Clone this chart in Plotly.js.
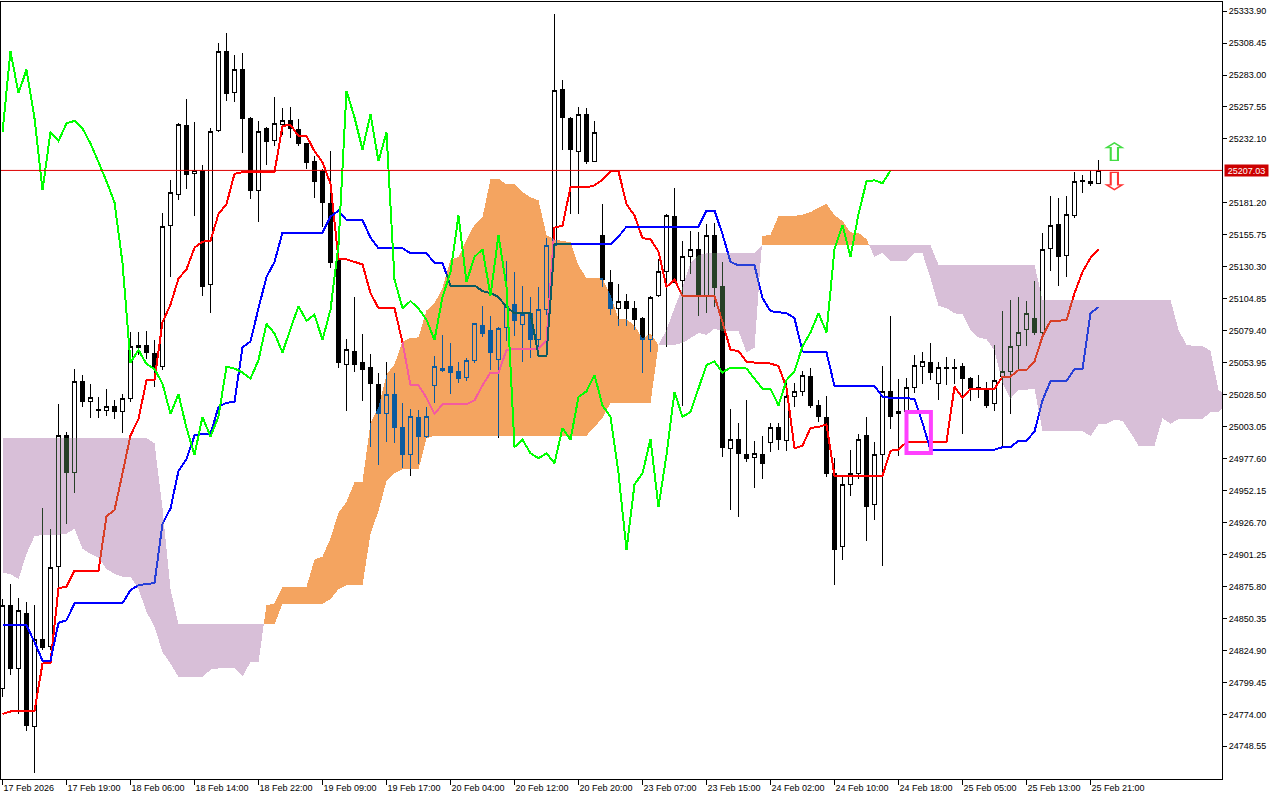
<!DOCTYPE html>
<html><head><meta charset="utf-8">
<script src="https://cdn.plot.ly/plotly-3.0.1.min.js"></script>
<style>html,body{margin:0;padding:0;background:#fff;overflow:hidden}#chart{width:1280px;height:800px}</style>
</head><body><div id="chart"></div>
<script>
// ---- tick labels ----
const tickIdx = [0,8,16,24,32,40,48,56,64,72,80,88,96,104,112,120,128,136];
const timeLabels = ['17 Feb 2026','17 Feb 19:00','18 Feb 06:00','18 Feb 14:00','18 Feb 22:00','19 Feb 09:00','19 Feb 17:00','20 Feb 04:00','20 Feb 12:00','20 Feb 20:00','23 Feb 07:00','23 Feb 15:00','24 Feb 02:00','24 Feb 10:00','24 Feb 18:00','25 Feb 05:00','25 Feb 13:00','25 Feb 21:00'];
const priceTicks = [25333.90,25308.45,25283.00,25257.55,25232.10,25181.20,25155.75,25130.30,25104.85,25079.40,25053.95,25028.50,25003.05,24977.60,24952.15,24926.70,24901.25,24875.80,24850.35,24824.90,24799.45,24774.00,24748.55];

// ---- candles (H1 bars) ----
const opens = [24794.4,24860.5,24810.4,24854.5,24764.7,24833.6,24828.4,24891.4,24996.0,24966.7,
25039.3,25023.2,25016.0,25016.0,25019.2,25014.8,25025.2,25066.1,25067.7,25061.3,
25050.9,25163.5,25187.6,25242.9,25204.8,25207.2,25116.2,25238.5,25301.8,25269.3,
25287.3,25248.5,25191.2,25240.5,25231.2,25243.7,25246.5,25239.7,25228.4,25214.4,
25207.2,25181.1,25135.0,25052.9,25062.9,25054.1,25050.1,25036.9,25013.2,25028.8,
25002.0,24980.7,25010.0,24995.2,25036.1,25048.1,25050.9,25046.9,25042.1,25056.1,
25083.3,25079.3,25056.9,25082.1,25100.2,25084.1,25093.4,25072.1,25096.2,25147.5,
25271.3,25248.5,25222.4,25251.7,25214.4,25155.1,25118.2,25097.4,25103.0,25097.0,
25089.4,25072.1,25107.4,25126.2,25170.3,25119.4,25138.2,25144.3,25107.4,25155.5,
25115.0,24985.9,24993.2,24981.1,24978.7,24981.1,24990.8,25002.0,24992.0,25027.2,
25031.2,25043.3,25020.0,25010.0,24965.9,24907.8,24957.1,24965.9,24996.0,24940.7,
24980.7,25030.8,25013.2,25014.8,25034.0,25051.3,25054.1,25037.3,25049.3,25050.1,
25051.3,25041.3,25034.0,25032.8,25021.2,25043.3,25047.3,25067.3,25080.1,25088.9,
25078.1,25145.1,25164.3,25139.0,25171.1,25198.4,25198.4,25196.8];
const highs = [24866.0,24877.7,24866.5,24863.7,24861.0,24937.9,24921.8,25020.8,24998.8,25049.3,
25044.1,25037.3,25026.4,25033.2,25024.0,25029.2,25078.1,25078.1,25079.3,25071.7,
25173.5,25199.6,25244.5,25263.7,25245.7,25211.2,25240.5,25308.6,25316.6,25298.6,
25300.6,25249.3,25246.5,25241.3,25265.3,25256.5,25257.3,25247.7,25229.2,25218.4,
25208.0,25222.4,25135.8,25072.9,25106.2,25076.9,25060.9,25046.1,25054.9,25046.1,
25022.0,25016.8,25016.0,25018.8,25059.3,25076.1,25069.3,25054.9,25058.1,25085.7,
25099.0,25091.4,25082.1,25135.0,25126.2,25115.0,25106.2,25114.2,25153.1,25331.4,
25279.3,25249.3,25257.7,25256.5,25246.5,25180.3,25127.4,25117.0,25109.0,25103.0,
25090.2,25107.0,25136.2,25172.3,25193.2,25151.1,25159.1,25158.3,25164.3,25165.1,
25134.2,25016.8,25006.0,25024.0,24992.0,24996.0,25006.0,25006.0,25038.1,25038.1,
25047.3,25050.1,25024.0,25027.2,24977.9,24962.7,24984.7,24997.2,25010.8,24990.8,
25051.3,25090.9,25041.3,25042.1,25060.1,25062.1,25069.3,25054.9,25058.9,25057.3,
25054.1,25042.8,25044.1,25038.9,25068.1,25095.4,25104.0,25106.2,25103.0,25119.4,
25157.1,25186.4,25185.2,25186.4,25205.6,25203.6,25207.2,25215.2];
const lows = [24788.0,24805.6,24774.3,24760.7,24727.4,24825.6,24825.6,24875.7,24925.8,24949.9,
25018.8,25010.0,25010.0,25011.6,25009.2,24997.9,25022.8,25060.1,25057.3,25034.8,
25048.1,25122.2,25183.5,25192.4,25171.1,25107.0,25093.4,25237.7,25262.5,25261.3,
25221.2,25184.3,25166.3,25211.6,25226.4,25235.3,25233.2,25226.4,25208.4,25185.1,
25162.3,25129.4,25050.1,25015.2,25046.9,25023.2,24987.2,24972.7,24990.8,24989.9,
24969.9,24963.9,24973.1,24994.0,25022.0,25046.9,25028.8,25038.1,25039.3,25054.1,
25074.1,25048.1,24994.0,25071.3,25074.9,25054.9,25058.1,25064.1,25092.2,25146.3,
25223.6,25172.3,25172.3,25212.4,25213.6,25114.2,25092.2,25083.3,25082.9,25080.1,
25046.1,25062.1,25106.2,25066.1,25117.4,25019.2,25124.2,25091.4,25093.4,25098.2,
24979.1,24936.6,24931.0,24974.7,24953.9,24961.1,24982.7,24984.7,24983.9,25018.8,
25027.2,25018.0,25006.8,24962.7,24876.9,24897.0,24947.9,24961.1,24911.8,24928.6,
24891.8,25000.8,24979.9,25012.0,25030.0,25037.3,25040.1,25024.0,25036.1,25037.3,
24997.2,25023.5,25026.0,25018.0,25015.2,24987.9,25013.2,25048.1,25066.9,25076.1,
25074.9,25127.0,25115.0,25122.2,25169.5,25189.2,25194.4,25196.8];
const closes = [24860.5,24810.4,24856.5,24765.5,24833.6,24827.6,24890.6,24996.0,24966.7,25038.9,
25023.2,25026.4,25016.8,25019.2,25014.8,25025.2,25066.9,25067.7,25062.1,25050.9,
25162.3,25189.2,25243.6,25204.0,25206.8,25115.0,25237.7,25301.8,25268.5,25287.3,
25248.5,25191.2,25237.7,25230.4,25244.5,25246.5,25240.5,25228.4,25213.6,25198.4,
25181.5,25133.4,25054.1,25064.1,25052.9,25048.9,25037.3,25013.2,25028.8,25002.0,
24980.7,25010.8,24995.2,25011.2,25050.9,25049.3,25046.1,25041.3,25056.1,25084.9,
25077.3,25062.1,25080.9,25099.0,25087.3,25092.2,25072.1,25096.2,25147.5,25270.5,
25249.3,25223.6,25251.7,25214.4,25237.3,25120.2,25097.4,25103.0,25097.0,25088.2,
25072.1,25106.2,25126.2,25171.1,25118.2,25138.2,25144.3,25107.4,25155.5,25114.2,
24986.8,24992.7,24981.9,24977.9,24981.9,24973.9,25002.0,24992.7,25026.8,25031.2,
25044.1,25020.0,25010.8,24965.9,24905.0,24957.1,24965.9,24993.2,24939.1,24980.7,
25030.8,25010.8,25014.8,25034.0,25052.1,25054.9,25046.1,25050.1,25050.1,25049.3,
25041.3,25033.2,25033.2,25020.0,25040.1,25047.3,25066.9,25078.1,25093.4,25078.1,
25144.3,25163.5,25138.2,25172.3,25198.4,25199.2,25196.8,25207.0];

// ---- Ichimoku lines ----
const tenkan = [24774.3,24776.3,24776.7,24776.7,24776.7,24814.4,24815.2,24874.5,24875.7,24888.5,
24888.5,24888.5,24888.5,24931.8,24936.6,24965.9,24996.0,25009.2,25040.0,25040.0,
25086.2,25100.2,25121.0,25128.2,25145.5,25150.3,25151.1,25172.3,25180.3,25204.4,
25205.6,25205.6,25205.6,25205.6,25205.6,25242.5,25243.3,25234.4,25234.4,25222.4,
25213.6,25196.4,25136.2,25136.2,25134.2,25132.2,25109.4,25097.4,25097.4,25097.4,
25070.1,25036.0,25036.0,25026.0,25013.2,25020.8,25020.8,25020.8,25020.8,25024.0,
25036.0,25046.1,25046.1,25064.1,25064.9,25064.9,25064.9,25064.9,25072.1,25161.5,
25163.1,25193.6,25193.6,25193.6,25195.2,25199.6,25206.4,25206.4,25180.3,25171.1,
25153.1,25152.3,25142.3,25114.2,25120.2,25107.0,25107.0,25107.0,25107.0,25107.0,
25086.2,25064.1,25063.3,25054.9,25054.1,25054.1,25053.3,25051.3,25034.0,24985.9,
24987.9,25002.0,25002.8,25004.8,24963.9,24963.9,24963.9,24963.9,24963.9,24963.9,
24963.9,24983.9,24984.7,24990.8,24990.8,24990.8,24990.8,24990.8,24990.8,25034.8,
25026.0,25033.2,25033.2,25033.2,25033.2,25042.9,25042.9,25048.1,25048.1,25054.9,
25074.9,25087.3,25087.7,25087.7,25109.4,25126.2,25137.5,25144.3];
const kijun = [24844.9,24844.9,24844.9,24844.9,24831.6,24816.8,24816.8,24846.9,24848.9,24862.5,
24862.5,24862.5,24862.5,24862.5,24862.5,24862.5,24872.9,24876.9,24877.7,24878.5,
24925.8,24937.9,24967.9,24977.1,24996.0,24997.2,24997.2,25018.8,25022.0,25022.8,
25066.1,25070.9,25097.4,25122.2,25134.2,25157.5,25157.5,25157.5,25157.5,25157.5,
25157.5,25170.3,25175.1,25167.5,25167.5,25167.5,25153.5,25145.1,25145.1,25145.1,
25145.1,25141.1,25141.1,25141.1,25133.4,25133.4,25115.4,25115.4,25115.4,25115.4,
25111.0,25109.4,25106.2,25098.2,25093.4,25093.4,25093.4,25059.7,25059.7,25148.3,
25148.3,25148.3,25148.3,25148.3,25148.3,25148.3,25148.3,25154.3,25162.3,25162.3,
25162.3,25162.3,25162.3,25162.3,25162.3,25162.3,25162.3,25162.3,25175.1,25175.1,
25156.3,25134.2,25131.4,25131.4,25131.4,25105.4,25095.0,25094.2,25093.4,25089.4,
25062.9,25062.1,25062.1,25062.1,25035.3,25035.3,25035.3,25035.3,25035.3,25035.3,
25026.8,25026.0,25026.0,25026.0,25024.8,25006.0,24984.7,24984.7,24984.7,24984.7,
24984.7,24984.7,24984.7,24984.7,24984.7,24986.7,24986.7,24991.9,24991.9,24999.2,
25024.0,25039.3,25039.3,25039.3,25048.9,25048.9,25093.4,25098.2];
// Senkou span A / B (already shifted 26 bars forward)
const spanA = [24886.6,24885.7,24881.7,24901.8,24915.8,24917.0,24917.0,24917.0,24917.8,24921.8,
24905.8,24901.8,24898.6,24889.8,24885.7,24883.7,24883.7,24873.7,24855.7,24843.7,
24823.6,24814.4,24803.6,24803.6,24803.6,24803.6,24809.6,24810.6,24810.8,24810.8,
24804.2,24815.6,24816.0,24860.7,24862.3,24875.5,24875.5,24875.5,24875.5,24897.2,
24899.6,24914.2,24934.5,24943.1,24958.9,24959.3,25006.0,25019.0,25044.5,25052.7,
25070.7,25073.7,25074.1,25095.6,25101.2,25113.6,25135.8,25138.2,25151.5,25163.9,
25169.9,25200.0,25200.4,25196.0,25196.0,25190.0,25185.6,25183.3,25155.7,25151.9,
25150.9,25149.9,25131.4,25121.2,25121.2,25121.2,25107.6,25088.5,25088.5,25083.5,
25073.3,25077.1,25068.1,25068.1,25068.1,25069.7,25073.5,25077.7,25076.1,25081.1,
25079.1,25079.1,25079.1,25062.3,25065.9,25154.9,25155.7,25170.9,25170.9,25170.9,
25171.7,25173.9,25177.3,25180.3,25171.3,25166.7,25157.7,25157.3,25152.3,25138.2,
25141.3,25134.6,25134.6,25134.6,25141.1,25141.1,25121.2,25099.2,25097.4,25093.2,
25092.8,25079.7,25074.1,25072.7,25063.7,25037.7,25025.4,25032.0,25032.4,25033.4,
24999.6,24999.6,24999.6,24999.6,24999.6,24999.6,24995.5,25005.0,25005.4,25008.4,
25007.8,24998.4,24987.8,24987.8,24987.8,25009.8,25005.4,25009.0,25009.0,25009.0,
25009.0,25014.8,25014.8,25020.0];
const spanB = [24993.9,24993.9,24993.9,24993.9,24993.9,24993.9,24993.9,24993.9,24993.9,24993.9,
24993.9,24993.9,24993.9,24993.9,24993.9,24993.9,24993.9,24993.9,24993.9,24989.9,
24937.9,24873.7,24845.7,24845.7,24845.7,24845.7,24845.7,24845.7,24845.7,24845.7,
24845.7,24845.7,24845.7,24845.7,24845.7,24862.1,24862.1,24862.1,24862.1,24862.1,
24862.1,24865.7,24873.7,24876.9,24876.9,24876.9,24917.8,24935.9,24959.9,24965.9,
24969.1,24969.1,24969.1,24993.9,24995.9,24995.9,24995.9,24995.9,24995.9,24995.9,
24995.9,24995.9,24995.9,24995.9,24995.9,24995.9,24995.9,24995.9,24995.9,24995.9,
24995.9,24995.9,24995.9,24995.9,25002.8,25010.0,25022.0,25022.0,25022.0,25022.0,
25022.0,25022.0,25068.0,25080.0,25097.5,25114.2,25133.3,25139.7,25141.0,25141.0,
25141.0,25141.0,25141.0,25141.0,25141.0,25147.4,25147.4,25147.4,25147.4,25147.4,
25147.4,25147.4,25147.4,25147.4,25147.4,25147.4,25147.4,25147.4,25147.4,25147.4,
25147.4,25147.4,25147.4,25147.4,25147.4,25147.4,25147.4,25131.8,25131.8,25131.8,
25131.8,25131.8,25131.8,25131.8,25131.8,25131.8,25131.8,25131.8,25131.8,25131.8,
25103.9,25103.9,25103.9,25103.9,25103.9,25103.9,25103.9,25103.9,25103.9,25103.9,
25103.9,25103.9,25103.9,25103.9,25103.9,25103.9,25103.9,25080.0,25068.1,25067.3,
25067.3,25063.3,25032.3,25027.4];

const lastPrice = 25207.03;
const signalBar = 139;
const signalUpPrice = 25219.6;
const signalDownPrice = 25197.0;
const markBox = {x0: 113, x1: 116.05, y0: 24982.1, y1: 25014.7};

// ---- build ----
const X_RANGE = [-0.1875, 152.4375];
const barIdx = opens.map((_, i) => i);
const cloudIdx = spanA.map((_, i) => i);
const chikouShift = 26;
const chikouX = barIdx.slice(0, closes.length - chikouShift);
const chikouY = closes.slice(chikouShift);

function cutAt(xs, a, b, xmax) {
  const X = [], A = [], B = [];
  for (let i = 0; i < xs.length; i++) {
    if (xs[i] <= xmax) { X.push(xs[i]); A.push(a[i]); B.push(b[i]); }
    else {
      const t = (xmax - xs[i - 1]) / (xs[i] - xs[i - 1]);
      X.push(xmax); A.push(a[i - 1] + t * (a[i] - a[i - 1])); B.push(b[i - 1] + t * (b[i] - b[i - 1]));
      break;
    }
  }
  return {X, A, B};
}

function cloudPolys(xs, a, b, above) {
  const X = [], Y = [];
  let up = [], lo = [];
  const inside = d => above ? d > 0 : d < 0;
  const flush = () => {
    if (up.length > 1) {
      const px = up.map(p => p[0]).concat(lo.map(p => p[0]).reverse());
      const py = up.map(p => p[1]).concat(lo.map(p => p[1]).reverse());
      X.push(...px, null); Y.push(...py, null);
    }
    up = []; lo = [];
  };
  for (let i = 0; i < xs.length; i++) {
    const d = a[i] - b[i];
    if (inside(d)) { up.push([xs[i], Math.max(a[i], b[i])]); lo.push([xs[i], Math.min(a[i], b[i])]); }
    if (i < xs.length - 1) {
      const d2 = a[i + 1] - b[i + 1];
      if (d * d2 < 0) {
        const t = d / (d - d2);
        const xc = xs[i] + t * (xs[i + 1] - xs[i]);
        const yc = a[i] + t * (a[i + 1] - a[i]);
        if (inside(d)) { up.push([xc, yc]); lo.push([xc, yc]); flush(); }
        else if (inside(d2)) { up.push([xc, yc]); lo.push([xc, yc]); }
      } else if (!inside(d) && inside(d2) && d === 0) {
        up.push([xs[i], a[i]]); lo.push([xs[i], a[i]]);
      } else if (inside(d) && !inside(d2)) {
        up.push([xs[i + 1], a[i + 1]]); lo.push([xs[i + 1], a[i + 1]]); flush();
      }
    } else flush();
  }
  return {x: X, y: Y};
}
const cut = cutAt(cloudIdx, spanA, spanB, X_RANGE[1]);
const upCloud = cloudPolys(cut.X, cut.A, cut.B, true);
const dnCloud = cloudPolys(cut.X, cut.A, cut.B, false);

const FONT = 'Liberation Sans, Arial, sans-serif';
const data = [
  {type: 'candlestick', x: barIdx, open: opens, high: highs, low: lows, close: closes,
   increasing: {line: {color: '#000', width: 1}, fillcolor: '#ffffff'},
   decreasing: {line: {color: '#000', width: 1}, fillcolor: '#000000'},
   whiskerwidth: 0, hoverinfo: 'skip', name: 'candles'},
  {type: 'scatter', mode: 'lines', x: barIdx, y: tenkan, line: {color: '#ff0000', width: 2}, hoverinfo: 'skip', name: 'tenkan'},
  {type: 'scatter', mode: 'lines', x: barIdx, y: kijun, line: {color: '#0000ff', width: 2}, hoverinfo: 'skip', name: 'kijun'},
  {type: 'scatter', mode: 'none', x: upCloud.x, y: upCloud.y, fill: 'toself', fillcolor: 'rgb(11,91,159)', hoverinfo: 'skip', name: 'cloudUp'},
  {type: 'scatter', mode: 'none', x: dnCloud.x, y: dnCloud.y, fill: 'toself', fillcolor: 'rgb(39,64,39)', hoverinfo: 'skip', name: 'cloudDown'},
  {type: 'scatter', mode: 'lines', x: chikouX, y: chikouY, line: {color: '#00ff00', width: 2}, hoverinfo: 'skip', name: 'chikou'},
  {type: 'scatter', mode: 'text', x: [signalBar, signalBar], y: [signalUpPrice, signalDownPrice], text: ['\u21E7', '\u21E9'],
   textfont: {family: 'DejaVu Sans', size: 22, color: ['#44dd44', '#ff3333']}, textposition: 'middle center', hoverinfo: 'skip', name: 'signals'}
];

const layout = {
  width: 1280, height: 800,
  margin: {l: 1, r: 58, t: 2, b: 21, pad: 0},
  paper_bgcolor: '#ffffff', plot_bgcolor: '#ffffff',
  showlegend: false, boxgap: 0.375,
  font: {family: FONT, size: 9, color: '#000'},
  xaxis: {type: 'linear', range: X_RANGE, showgrid: false, zeroline: false,
    showline: true, linecolor: '#000', linewidth: 1, mirror: true,
    ticks: 'outside', ticklen: 5, tickcolor: '#000', tickwidth: 1,
    tickvals: tickIdx, ticktext: timeLabels, ticklabelposition: 'outside right',
    tickfont: {family: FONT, size: 9, color: '#000'},
    rangeslider: {visible: false}, fixedrange: true},
  yaxis: {side: 'right', range: [24722.55, 25341.12], showgrid: false, zeroline: false,
    showline: true, linecolor: '#000', linewidth: 1, mirror: true,
    ticks: 'outside', ticklen: 4, tickcolor: '#000', tickwidth: 1,
    tickvals: priceTicks, ticktext: priceTicks.map(v => v.toFixed(2)),
    tickfont: {family: FONT, size: 9, color: '#000'}, fixedrange: true},
  shapes: [
    {type: 'line', xref: 'paper', x0: 0, x1: 1, yref: 'y', y0: lastPrice, y1: lastPrice,
     line: {color: '#dd0000', width: 1}, layer: 'above'},
    {type: 'rect', xref: 'x', yref: 'y', x0: markBox.x0, x1: markBox.x1, y0: markBox.y0, y1: markBox.y1,
     line: {color: '#ff40ff', width: 4}, fillcolor: 'rgba(0,0,0,0)', layer: 'above'}
  ],
  annotations: [
    {xref: 'paper', x: 1, xanchor: 'left', xshift: 2, yref: 'y', y: lastPrice, yanchor: 'middle',
     text: lastPrice.toFixed(2), showarrow: false, bgcolor: '#cc0000', borderpad: 0, width: 43, height: 11,
     font: {family: FONT, size: 9, color: '#ffffff'}}
  ]
};

const gd = document.getElementById('chart');
Plotly.newPlot(gd, data, layout, {staticPlot: true, displayModeBar: false}).then(() => {
  const SVGNS = 'http://www.w3.org/2000/svg';
  const sz = gd._fullLayout._size;
  // MetaTrader draws the cloud in XOR mode: give the blend a white backdrop inside the plot group
  const sl = gd.querySelector('.scatterlayer');
  if (sl && sl.parentNode) {
    const host = sl.parentNode;
    const r = document.createElementNS(SVGNS, 'rect');
    r.setAttribute('x', 0); r.setAttribute('y', 0);
    r.setAttribute('width', sz.w); r.setAttribute('height', sz.h);
    r.setAttribute('fill', '#ffffff');
    host.insertBefore(r, host.firstChild);
  }
  // aliased rendering like the terminal
  gd.querySelectorAll('.scatterlayer path, .boxlayer path').forEach(p => { p.style.shapeRendering = 'crispEdges'; });
  gd.querySelectorAll('.scatterlayer .trace').forEach(g => {
    const cd = g.__data__;
    const tr = cd && cd[0] && cd[0].trace;
    if (!tr) return;
    if (tr.name === 'cloudUp' || tr.name === 'cloudDown') {
      g.style.mixBlendMode = 'difference';
    }
    if (tr.name === 'signals') {
      g.querySelectorAll('text').forEach(t => {
        const b = t.getBBox();
        const cx = b.x + b.width / 2, cy = b.y + b.height / 2;
        const prev = t.getAttribute('transform') || '';
        t.setAttribute('transform', `${prev} translate(${cx},${cy}) scale(1.9,1.15) translate(${-cx},${-cy})`);
      });
    }
  });
});
</script>
</body></html>
